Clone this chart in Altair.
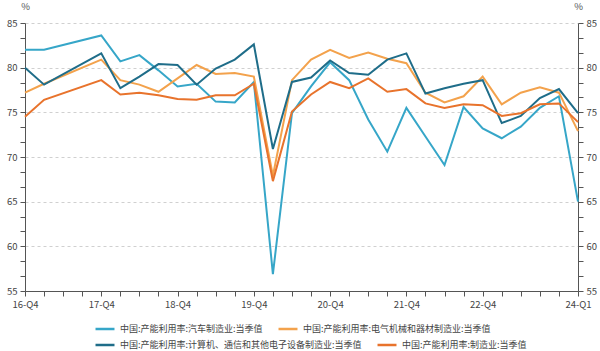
import altair as alt
import pandas as pd

quarters = ["16-Q4",
            "17-Q1", "17-Q2", "17-Q3", "17-Q4",
            "18-Q1", "18-Q2", "18-Q3", "18-Q4",
            "19-Q1", "19-Q2", "19-Q3", "19-Q4",
            "20-Q1", "20-Q2", "20-Q3", "20-Q4",
            "21-Q1", "21-Q2", "21-Q3", "21-Q4",
            "22-Q1", "22-Q2", "22-Q3", "22-Q4",
            "23-Q1", "23-Q2", "23-Q3", "23-Q4",
            "24-Q1"]

auto = [82.0, 82.0, None, None, 83.6, 80.7, 81.4, 79.7, 77.9, 78.2, 76.2, 76.1, 78.4,
        56.9, 74.9, 77.9, 80.6, 78.6, 74.2, 70.6, 75.5, 72.3, 69.1, 75.6, 73.2, 72.1,
        73.4, 75.5, 76.8, 65.0]
electrical = [77.2, 78.2, None, None, 80.9, 78.6, 78.1, 77.3, 78.8, 80.3, 79.3, 79.4, 79.0,
              67.9, 78.6, 80.9, 82.0, 81.1, 81.7, 81.0, 80.5, 77.2, 76.1, 76.8, 79.0, 75.9,
              77.2, 77.8, 77.2, 72.9]
electronics = [80.0, 78.1, None, None, 81.6, 77.7, 79.0, 80.4, 80.3, 78.1, 79.9, 80.9, 82.6,
               70.9, 78.4, 78.9, 80.8, 79.4, 79.2, 80.9, 81.6, 77.1, 77.7, 78.2, 78.6, 73.8,
               74.6, 76.6, 77.6, 74.9]
manufacturing = [74.5, 76.4, None, None, 78.6, 77.0, 77.2, 76.9, 76.5, 76.4, 76.9, 76.9, 78.2,
                 67.3, 75.1, 77.0, 78.4, 77.7, 78.8, 77.3, 77.6, 76.0, 75.5, 75.9, 75.8, 74.6,
                 74.9, 75.9, 76.0, 73.9]

series_names = ["中国:产能利用率:汽车制造业:当季值",
                "中国:产能利用率:电气机械和器材制造业:当季值",
                "中国:产能利用率:计算机、通信和其他电子设备制造业:当季值",
                "中国:产能利用率:制造业:当季值"]
series_values = [auto, electrical, electronics, manufacturing]
colors = ["#36a6c8", "#f3a24c", "#1f6d89", "#e8732c"]

shown_labels = ["16-Q4", "17-Q4", "18-Q4", "19-Q4", "20-Q4", "21-Q4", "22-Q4", "24-Q1"]
y_tick_values = [55, 56.667, 58.333, 60, 61.667, 63.333, 65, 66.667, 68.333, 70,
                 71.667, 73.333, 75, 76.667, 78.333, 80, 81.667, 83.333, 85]

rows = []
for name, vals in zip(series_names, series_values):
    for q, v in zip(quarters, vals):
        if v is not None:
            rows.append({"q": q, "series": name, "value": v})
df = pd.DataFrame(rows)

FONT = "Noto Sans CJK SC"
AX = "#555555"
is_major = "abs(datum.value - round(datum.value/5)*5) < 0.01"

x_label_expr = ("indexof([" + ",".join("'%s'" % s for s in shown_labels) +
                "], datum.value) >= 0 ? datum.value : ''")


def x_enc():
    return alt.X("q:O", scale=alt.Scale(type="point", domain=quarters, padding=0),
                 axis=alt.Axis(title=None, labelExpr=x_label_expr, labelAngle=0,
                               labelOverlap=False, tickSize=5, labelPadding=3,
                               grid=False, domainColor=AX, tickColor=AX,
                               labelColor="#444444", labelFont=FONT, labelFontSize=9.5))


y_scale = alt.Scale(domain=[55, 85], nice=False, zero=False)


def y_axis(orient, grid):
    return alt.Axis(orient=orient, values=y_tick_values,
                    labelExpr=is_major + " ? round(datum.value) : ''",
                    grid=grid,
                    gridOpacity={"condition": {"test": is_major, "value": 1}, "value": 0},
                    gridDash=[3, 3], gridColor="#d0d0d0", gridWidth=1,
                    tickSize=5, labelPadding=3, domainColor=AX, tickColor=AX,
                    labelColor="#444444", labelFont=FONT, labelFontSize=9.5,
                    title="%", titleAngle=0, titleX=0, titleY=-12, titleAlign="center",
                    titleFont=FONT, titleFontSize=9.5, titleFontWeight="normal",
                    titleColor="#555555", labelOverlap=False)


def legend(y):
    return alt.Legend(title=None, orient="none", legendX=69, legendY=y,
                      direction="horizontal",
                      symbolType="stroke", symbolStrokeWidth=2.5,
                      symbolSize=360, labelLimit=500, labelOffset=4,
                      columnPadding=10, padding=0,
                      labelFont=FONT, labelFontSize=9,
                      labelColor="#444444")


pairs = [(0, 1), (2, 3)]
layers = []
for k, (a, b) in enumerate(pairs):
    names = [series_names[a], series_names[b]]
    sub = df[df["series"].isin(names)]
    layers.append(
        alt.Chart(sub).mark_line(strokeWidth=2).encode(
            x=x_enc(),
            y=alt.Y("value:Q", scale=y_scale,
                    axis=y_axis("left", True) if k == 0 else y_axis("right", False)),
            color=alt.Color("series:N",
                            scale=alt.Scale(domain=names, range=[colors[a], colors[b]]),
                            legend=legend(295 + 16 * k)),
        )
    )

chart = alt.layer(*layers).resolve_scale(y="shared", color="independent").resolve_axis(
    y="independent"
).properties(
    width=553, height=268, autosize="none",
    padding={"left": 25, "top": 23, "right": 22, "bottom": 60},
    background="white",
).configure_view(stroke=None)

chart.save("out.html", embed_options={"renderer": "svg", "actions": False})
